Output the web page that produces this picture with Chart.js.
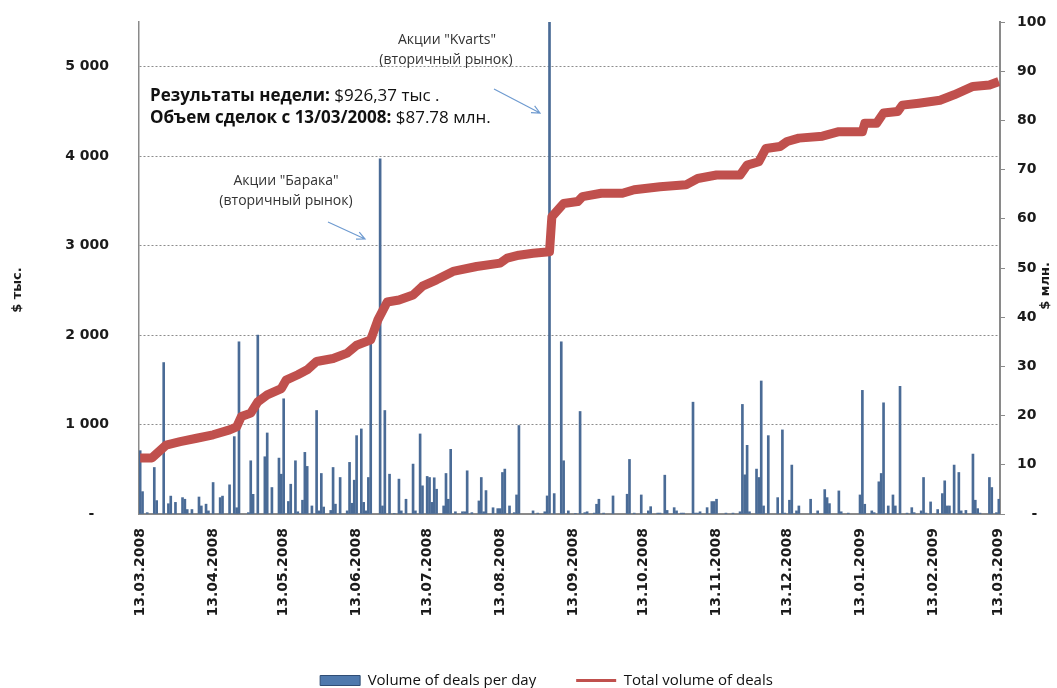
<!DOCTYPE html>
<html>
<head>
<meta charset="utf-8">
<script src="https://cdn.jsdelivr.net/npm/chart.js@4.4.0/dist/chart.umd.min.js"></script>
<style>
  html, body { margin: 0; padding: 0; background: #fff; }
  #wrap { width: 1057px; height: 688px; }
</style>
</head>
<body>
<div id="wrap"><canvas id="chart"></canvas></div>
<script>
// month ticks, days since 13.03.2008
const monthDays = [0, 31, 61, 92, 122, 153, 184, 214, 245, 275, 306, 337, 365];
const monthLabels = ['13.03.2008', '13.04.2008', '13.05.2008', '13.06.2008', '13.07.2008', '13.08.2008',
  '13.09.2008', '13.10.2008', '13.11.2008', '13.12.2008', '13.01.2009', '13.02.2009', '13.03.2009'];

// daily volume, $ тыс.
const barDays = [
  0, 1, 3, 6, 7, 10, 12, 13, 15, 18, 19, 20, 22, 25, 26, 28, 29,
  31, 34, 35, 38, 40, 41, 42, 46, 47, 48, 50, 53, 54, 56, 59, 60,
  61, 63, 64, 66, 67, 69, 70, 71, 73, 75, 76, 77, 78, 81, 82, 83, 85, 88, 89, 90, 91,
  92, 94, 95, 96, 97, 98, 102, 103, 104, 106, 108, 110, 111, 113, 116, 117, 119, 120,
  122, 123, 124, 125, 126, 129, 130, 131, 132, 134, 137, 138, 139, 141, 144, 145, 146, 147, 150, 152,
  153, 154, 155, 157, 159, 160, 161, 167, 169, 172, 173, 174, 176, 179, 180, 182,
  185, 187, 189, 190, 193, 194, 195, 197, 201, 207, 208, 210, 213,
  216, 217, 220, 221, 223, 224, 227, 228, 230, 231, 235, 236, 237, 238, 241, 243, 244,
  245, 249, 252, 255, 256, 257, 258, 259, 262, 263, 264, 265, 267, 271, 273, 274,
  276, 277, 279, 280, 285, 288, 291, 292, 293, 297, 298, 301,
  306, 307, 308, 311, 312, 314, 315, 316, 318, 320, 321, 323, 326, 328, 329, 332, 333, 334, 336,
  339, 341, 342, 343, 344, 346, 348, 349, 351, 354, 355, 356, 357, 361, 362, 364, 365
];
const barValues = [
  708, 250, 15, 520, 150, 1693, 115, 200, 130, 183, 165, 50, 50, 190, 90, 110, 35,
  352, 183, 200, 326, 865, 70, 1925, 15, 595, 220, 2000, 640, 906, 296, 625, 445,
  1288, 140, 333, 595, 25, 154, 689, 532, 90, 1157, 35, 453, 78, 40, 520, 110, 408, 35, 577, 120, 378,
  876, 951, 130, 35, 408, 1950, 3970, 90, 1157, 445, 5, 390, 35, 165, 558, 35, 895, 315,
  420, 408, 130, 405, 277, 90, 453, 165, 723, 25, 25, 25, 483, 15, 146, 408, 25, 262, 70, 60,
  60, 464, 502, 90, 15, 213, 989, 35, 10, 25, 202, 5600, 228, 1925, 595, 35,
  5, 1146, 15, 25, 10, 109, 165, 10, 202, 221, 610, 10, 213,
  35, 82, 10, 10, 434, 40, 71, 35, 10, 10, 1250, 10, 10, 25, 71, 139, 139,
  165, 10, 10, 25, 1225, 438, 768, 25, 502, 408, 1487, 90, 876, 183, 940, 10,
  154, 547, 35, 90, 165, 35, 273, 183, 116, 258, 25, 10,
  213, 1382, 109, 35, 15, 360, 453, 1243, 90, 213, 90, 1427, 10, 71, 15, 35, 408, 10, 135,
  50, 228, 371, 90, 90, 547, 464, 35, 40, 670, 154, 60, 10, 408, 296, 15, 165
];

// cumulative volume, $ млн.
const totalDays = [0, 5, 11, 17, 24, 31, 38, 41, 43, 47, 50, 54, 60, 62, 67, 71, 75, 82, 88, 92,
  98, 101, 105, 110, 116, 120, 126, 133, 143, 153, 156, 161, 167, 174, 175, 180, 186, 188, 196, 205,
  210, 221, 232, 237, 245, 255, 258, 263, 266, 272, 275, 280, 290, 297, 307, 308, 313, 316, 322, 324,
  331, 340, 346, 354, 361, 365];
const totalValues = [11.4, 11.4, 14.0, 14.7, 15.4, 16.1, 17.1, 17.7, 19.8, 20.5, 22.8, 24.2, 25.5, 27.2, 28.3, 29.3, 31.0, 31.6, 32.7, 34.3,
  35.4, 39.4, 43.1, 43.5, 44.5, 46.3, 47.6, 49.3, 50.3, 51.0, 52.0, 52.6, 53.0, 53.3, 60.4, 63.1, 63.5, 64.5, 65.2, 65.2,
  65.9, 66.5, 66.9, 68.2, 68.9, 68.9, 70.9, 71.6, 74.3, 74.7, 75.7, 76.4, 76.8, 77.7, 77.7, 79.4, 79.4, 81.5, 81.8, 83.1,
  83.5, 84.1, 85.2, 86.9, 87.2, 87.9];

const leftTicks = [0, 1000, 2000, 3000, 4000, 5000];

const tickFont = { family: 'DejaVu Sans', size: 14, weight: 'bold' };
const textColor = '#1b1b1b';
const axisGray = '#8a8a8a';

function arrow(c, x1, y1, x2, y2) {
  const a = Math.atan2(y2 - y1, x2 - x1);
  c.beginPath();
  c.moveTo(x1, y1);
  c.lineTo(x2, y2);
  c.moveTo(x2 - 9 * Math.cos(a - 0.45), y2 - 9 * Math.sin(a - 0.45));
  c.lineTo(x2, y2);
  c.lineTo(x2 - 9 * Math.cos(a + 0.45), y2 - 9 * Math.sin(a + 0.45));
  c.stroke();
}

const notes = {
  id: 'notes',
  afterDraw(chart) {
    const c = chart.ctx;
    c.save();
    c.fillStyle = textColor;
    c.textAlign = 'center';
    c.textBaseline = 'middle';
    c.font = 'bold 13px "DejaVu Sans"';
    [[18, 290, '$ тыс.'], [1046, 286, '$ млн.']].forEach(([x, y, t]) => {
      c.save();
      c.translate(x, y);
      c.rotate(-Math.PI / 2);
      c.fillText(t, 0, 0);
      c.restore();
    });

    c.font = '14px "Open Sans"';
    c.fillStyle = '#333';
    c.fillText('Акции "Kvarts"', 447, 40);
    c.fillText('(вторичный рынок)', 446, 60);
    c.fillText('Акции "Барака"', 286, 181);
    c.fillText('(вторичный рынок)', 286, 201);

    c.textAlign = 'left';
    c.fillStyle = '#111';
    const lines = [['Результаты недели: ', '$926,37 тыс .', 96], ['Объем сделок с 13/03/2008: ', '$87.78 млн.', 118]];
    lines.forEach(([b, n, y]) => {
      c.font = 'bold 17px "Open Sans"';
      c.fillText(b, 150, y);
      const w = c.measureText(b).width;
      c.font = '17px "Open Sans"';
      c.fillText(n, 150 + w, y);
    });

    c.strokeStyle = '#6f9bd0';
    c.lineWidth = 1.2;
    arrow(c, 494, 89, 540, 113);
    arrow(c, 328, 222, 365, 239);
    c.restore();
  }
};

new Chart(document.getElementById('chart'), {
  type: 'bar',
  data: {
    datasets: [{
      type: 'bar',
      label: 'Volume of deals per day',
      data: barDays.map((d, i) => ({ x: d, y: barValues[i] })),
      backgroundColor: '#4a6b96',
      barThickness: 2,
      yAxisID: 'y',
      order: 2
    }, {
      type: 'line',
      label: 'Total volume of deals',
      data: totalDays.map((d, i) => ({ x: d, y: totalValues[i] })),
      borderColor: '#c0504d',
      backgroundColor: '#c0504d',
      borderWidth: 9,
      borderJoinStyle: 'round',
      pointRadius: 0,
      tension: 0,
      yAxisID: 'y1',
      order: 1
    }]
  },
  options: {
    responsive: true,
    maintainAspectRatio: false,
    animation: false,
    layout: { padding: { top: 22, bottom: -10, left: 36, right: 0 } },
    plugins: {
      tooltip: { enabled: false },
      legend: {
        position: 'bottom',
        labels: {
          usePointStyle: true,
          pointStyleWidth: 40,
          boxHeight: 10,
          padding: 40,
          color: '#111',
          font: { family: 'Open Sans', size: 15 },
          generateLabels(chart) {
            const items = Chart.defaults.plugins.legend.labels.generateLabels(chart);
            items.sort((a, b) => a.datasetIndex - b.datasetIndex);
            items.forEach(it => {
              if (it.datasetIndex === 0) {
                it.pointStyle = 'rect';
                it.fillStyle = '#4f79ad';
                it.strokeStyle = '#2f4d75';
                it.lineWidth = 1;
              } else {
                it.pointStyle = 'line';
                it.strokeStyle = '#c0504d';
                it.lineWidth = 3;
              }
            });
            return items;
          }
        }
      }
    },
    scales: {
      x: {
        type: 'linear',
        min: -0.5,
        max: 365.5,
        offset: false,
        afterBuildTicks: s => { s.ticks = monthDays.map(v => ({ value: v })); },
        afterFit: s => { s.height = 119; },
        grid: { display: false, drawTicks: false },
        border: { display: true, color: axisGray, width: 2 },
        ticks: {
          autoSkip: false,
          minRotation: 90,
          maxRotation: 90,
          padding: 14,
          color: textColor,
          font: tickFont,
          callback: (v, i) => monthLabels[i]
        }
      },
      y: {
        position: 'left',
        min: 0,
        max: 5500,
        afterBuildTicks: s => { s.ticks = leftTicks.map(v => ({ value: v })); },
        afterFit: s => { s.width = 103; },
        grid: {
          drawTicks: true,
          tickLength: 26,
          tickColor: 'rgba(0,0,0,0)',
          color: c => (c.tick && c.tick.value === 0) ? 'rgba(0,0,0,0)' : '#8c8c8c'
        },
        border: { display: true, color: axisGray, width: 1.5, dash: [2, 2] },
        ticks: {
          padding: 4,
          color: textColor,
          font: tickFont,
          callback: v => v === 0 ? '-   ' : String(v).replace(/\B(?=(\d{3})+(?!\d))/g, ' ')
        }
      },
      y1: {
        position: 'right',
        min: 0,
        max: 100,
        afterFit: s => { s.width = 57; },
        grid: { drawOnChartArea: false, drawTicks: true, tickLength: 5, color: axisGray },
        border: { display: true, color: axisGray, width: 2 },
        ticks: {
          stepSize: 10,
          padding: 12,
          color: textColor,
          font: tickFont,
          callback: v => v === 0 ? '   -' : v
        }
      }
    }
  },
  plugins: [notes]
});
</script>
</body>
</html>
